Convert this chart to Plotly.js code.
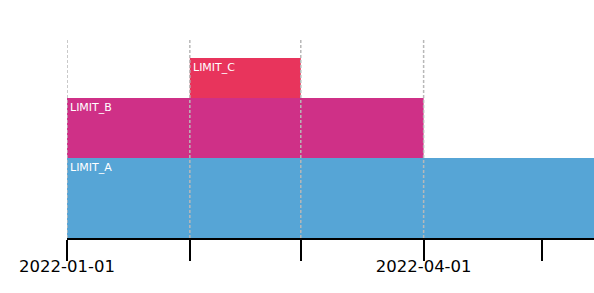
<!DOCTYPE html>
<html>
<head>
<meta charset="utf-8">
<script src="https://cdn.plot.ly/plotly-3.0.1.min.js"></script>
<style>html,body{margin:0;padding:0;background:#fff;}#chart{width:594px;height:293px;}</style>
</head>
<body>
<div id="chart"></div>
<script>
// Data
const dates = ['2022-01-01', '2022-02-01', '2022-03-01', '2022-04-01', '2022-05-14'];
const limitA = [4, 4, 4, 4, 4];
const limitB = [3, 3, 3, 0, 0];
const limitC = [0, 2, 0, 0, 0];
const seriesNames = ['LIMIT_A', 'LIMIT_B', 'LIMIT_C'];
const seriesColors = ['#56a5d6', '#cf3087', '#e8345c'];
const gridDates = ['2022-01-01', '2022-02-01', '2022-03-01', '2022-04-01'];
const tickDates = ['2022-01-01', '2022-02-01', '2022-03-01', '2022-04-01', '2022-05-01'];
const tickLabels = ['2022-01-01', '', '', '2022-04-01', ''];
const labelStart = ['2022-01-01', '2022-01-01', '2022-02-01'];

const allSeries = [limitA, limitB, limitC];
const traces = allSeries.map((ys, i) => ({
  type: 'scatter', mode: 'lines', x: dates, y: ys, name: seriesNames[i],
  stackgroup: 'one', line: {shape: 'hv', width: 0, color: seriesColors[i]},
  fillcolor: seriesColors[i], hoverinfo: 'skip'
}));

// label positions: top of stacked series at its start
const annotations = labelStart.map((d, i) => {
  const idx = dates.indexOf(d);
  let top = 0;
  for (let k = 0; k <= i; k++) top += allSeries[k][idx];
  return {x: d, y: top, xref: 'x', yref: 'y', text: seriesNames[i], showarrow: false,
    xanchor: 'left', yanchor: 'top', xshift: 1, yshift: -1,
    font: {family: 'DejaVu Sans', size: 11, color: '#ffffff'}};
});

const shapes = gridDates.map(d => ({
  type: 'line', xref: 'x', yref: 'paper', x0: d, x1: d, y0: 0, y1: 1, layer: 'above',
  line: {color: '#b8b8b8', width: 1.5, dash: '3px,2px'}
}));

const layout = {
  width: 594, height: 293,
  margin: {l: 67, r: 0, t: 40, b: 55},
  paper_bgcolor: '#ffffff', plot_bgcolor: '#ffffff',
  showlegend: false,
  font: {family: 'DejaVu Sans', color: '#000'},
  xaxis: {
    type: 'date', range: ['2022-01-01', '2022-05-14'],
    tickmode: 'array', tickvals: tickDates, ticktext: tickLabels,
    ticks: 'outside', ticklen: 21, tickwidth: 2, tickcolor: '#000',
    ticklabelstandoff: -8,
    showline: true, linecolor: '#000', linewidth: 1.5,
    showgrid: false, zeroline: false,
    tickfont: {family: 'DejaVu Sans', size: 16.5, color: '#000'}
  },
  yaxis: {range: [0, 9.9], visible: false, showgrid: false, zeroline: false},
  annotations: annotations,
  shapes: shapes
};

Plotly.newPlot('chart', traces, layout, {staticPlot: true, displayModeBar: false});
</script>
</body>
</html>
